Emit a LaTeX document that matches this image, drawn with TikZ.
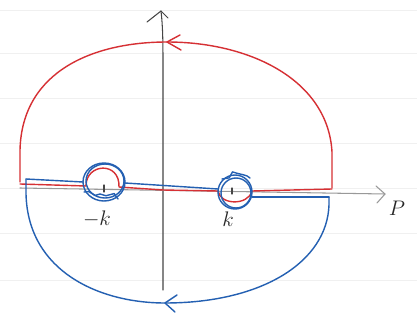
\documentclass[tikz,border=0pt]{standalone}
\usetikzlibrary{decorations.pathmorphing}
\definecolor{penred}{RGB}{214,48,52}
\definecolor{penblue}{RGB}{36,96,178}
\definecolor{pencil}{RGB}{70,70,70}
\begin{document}
\begin{tikzpicture}[x=0.02cm,y=-0.02cm,line cap=round,line join=round,
  redline/.style={draw=penred,line width=0.8pt},
  blueline/.style={draw=penblue,line width=0.8pt},
  axisline/.style={draw=pencil,line width=0.6pt},
  paper/.style={draw=gray!12,line width=0.4pt},
  lbl/.style={font=\large,text=black!85}]
\pgfmathsetseed{7}
\useasboundingbox (0,0) rectangle (417,325);
\fill[white] (0,0) rectangle (417,325);
% notebook rules
\foreach \yy in {10,53,98,143,188,233,280}
  \draw[paper] (0,\yy) -- (417,\yy);
% coordinates
\coordinate (ylo) at (163,290);
\coordinate (yhi) at (161,11);
\coordinate (xlo) at (20,188);
\coordinate (xhi) at (385,194);
\coordinate (mk) at (104,188);
\coordinate (pk) at (232,191);
\coordinate (ta) at (167,42);
\coordinate (ba) at (165,303);
% axes
\draw[axisline] (ylo) -- (163,60) .. controls (163,30) and (162,20) .. (yhi);
\draw[axisline] (147,22) -- (yhi) -- (168,18);
\draw[draw=gray!80,line width=0.6pt] (xlo) -- (xhi);
\draw[draw=gray!80,line width=0.6pt] (376,186) -- (xhi) -- (377,203);
% ticks
\draw[axisline] (mk) ++(0,-3) -- ++(0,7);
\draw[axisline] (pk) ++(0,-3) -- ++(0,6);
% labels
\node[lbl] (lmk) at (97,219) {$-k$};
\node[lbl] (lpk) at (228,219) {$k$};
\node[lbl] (lP) at (397,208) {$P$};
% red upper contour
\draw[redline] (332,188) -- (332,152) .. controls (328,80) and (250,42) .. (ta)
   .. controls (95,42) and (22,70) .. (20,150) -- (20,182);
\draw[redline] (180,35) -- (ta) -- (181,50);
% red along real axis
\draw[redline] (20,184) -- (86,186) .. controls (86,163) and (120,161) .. (119,187)
   -- (163,190) -- (218,191) .. controls (220,205) and (248,206) .. (252,191) -- (332,189);
% blue lower contour
\draw[blueline] (26,179) -- (26,194) .. controls (28,272) and (100,303) .. (ba)
   .. controls (262,303) and (327,262) .. (329,205) -- (329,197);
\draw[blueline] (177,295) -- (ba) -- (175,312);
% blue along real axis
\draw[blueline] (26,179) -- (83,182);
\draw[blueline] (104,182) ellipse [x radius=21,y radius=19];
\draw[blueline] (105,181) ellipse [x radius=19,y radius=17];
\draw[blueline] (125,183) -- (218,189);
\draw[blueline] (235,192) circle [radius=17];
\draw[blueline] (236,193) circle [radius=15];
\draw[blueline] (252,197) -- (329,197);
% scribbles
\draw[blueline,decorate,decoration={random steps,segment length=3,amplitude=2.5}] (84,192) -- (100,194) -- (118,199);
\draw[blueline,decorate,decoration={random steps,segment length=3,amplitude=2.5}] (222,179) -- (236,173) -- (250,178);
\end{tikzpicture}
\end{document}
